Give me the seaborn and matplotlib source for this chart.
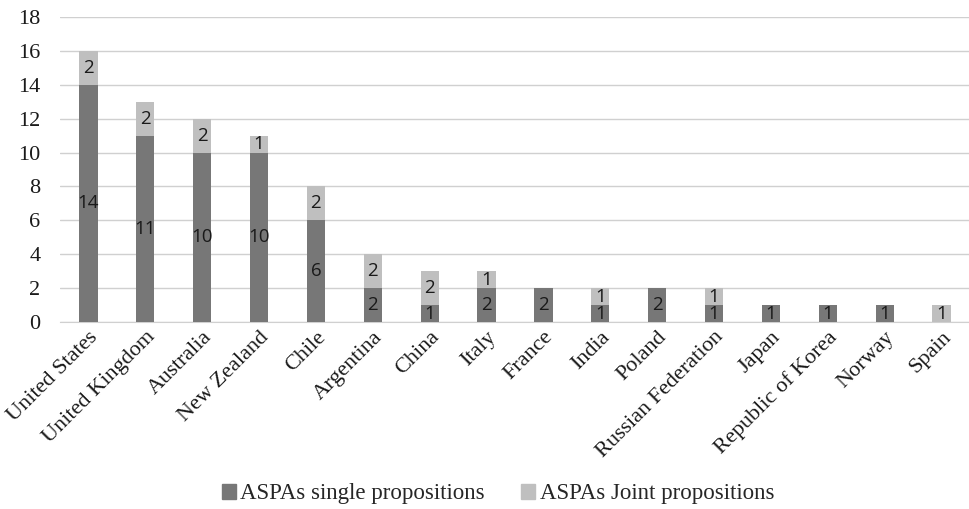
import pandas as pd
import matplotlib.pyplot as plt
import seaborn as sns

countries = ['United States', 'United Kingdom', 'Australia', 'New Zealand', 'Chile',
             'Argentina', 'China', 'Italy', 'France', 'India', 'Poland',
             'Russian Federation', 'Japan', 'Republic of Korea', 'Norway', 'Spain']
single = [14, 11, 10, 10, 6, 2, 1, 2, 2, 1, 2, 1, 1, 1, 1, 0]
joint = [2, 2, 2, 1, 2, 2, 2, 1, 0, 1, 0, 1, 0, 0, 0, 1]

base = pd.DataFrame({'country': countries, 'single': single, 'joint': joint})
base['total'] = base.single + base.joint

dark = '#777777'
light = '#bfbfbf'

sns.set_style('white')
plt.rcParams['font.family'] = ['Liberation Serif', 'DejaVu Serif']

fig = plt.figure(figsize=(9.7, 5.09), dpi=100)
ax = fig.add_axes([60 / 970, 1 - 322 / 509, 910 / 970, 305 / 509])

# total bar in light grey, single part drawn over it
sns.barplot(data=base, x='country', y='total', color=light, width=0.32,
            saturation=1, linewidth=0, ax=ax, zorder=2)
sns.barplot(data=base, x='country', y='single', color=dark, width=0.32,
            saturation=1, linewidth=0, ax=ax, zorder=3)

lbl = dict(ha='center', va='center', fontsize=13.5, color='#1a1a1a',
           family=['Open Sans', 'DejaVu Sans'], zorder=4)
for i, row in base.iterrows():
    if row.single > 0:
        ax.text(i, row.single / 2, str(row.single), **lbl)
    if row.joint > 0:
        ax.text(i, row.single + row.joint / 2, str(row.joint), **lbl)

ax.set_ylim(0, 18)
ax.set_yticks(range(0, 19, 2))
ax.set_xlim(-0.5, len(countries) - 0.5)
ax.yaxis.grid(True, color='#d0d0d0', linewidth=1, zorder=0)
ax.set_axisbelow(True)
for s in ['top', 'right', 'left']:
    ax.spines[s].set_visible(False)
ax.spines['bottom'].set_color('#d0d0d0')
ax.tick_params(axis='both', length=0, labelsize=16, colors='#1a1a1a')
ax.tick_params(axis='y', pad=14)
ax.tick_params(axis='x', pad=4)
ax.set_xticks(range(len(countries)))
ax.set_xticklabels(countries, rotation=45, ha='right', rotation_mode='anchor')
ax.set_xlabel('')
ax.set_ylabel('')

handles = [plt.Rectangle((0, 0), 1, 1, color=dark), plt.Rectangle((0, 0), 1, 1, color=light)]
fig.legend(handles, ['ASPAs single propositions', 'ASPAs Joint propositions'],
           loc='center', bbox_to_anchor=(498 / 970, 1 - 494 / 509), ncol=2,
           frameon=False, fontsize=16.5, handlelength=0.6, handleheight=0.6,
           handletextpad=0.2, columnspacing=1.6)

fig.savefig('out.png', dpi=100)
